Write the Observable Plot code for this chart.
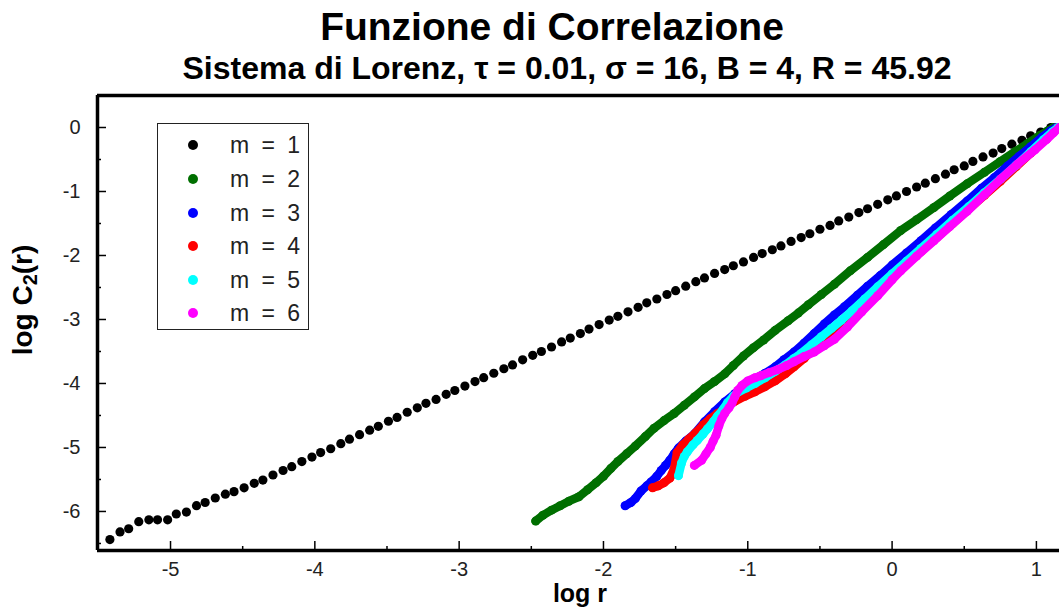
<!DOCTYPE html>
<html><head><meta charset="utf-8">
<script src="https://cdn.jsdelivr.net/npm/d3@7"></script>
<script src="https://cdn.jsdelivr.net/npm/@observablehq/plot@0.6"></script>
<style>
body{margin:0;background:#fff;font-family:"Liberation Sans",Arial,sans-serif;}
#wrap{position:relative;width:1059px;height:607px;overflow:hidden;background:#fff;}
#chart{position:absolute;left:0;top:0;}
.t{position:absolute;white-space:nowrap;color:#000;font-weight:bold;}
#title{left:0;width:1059px;text-align:center;top:7px;font-size:39px;line-height:39px;padding-left:45px;box-sizing:border-box;}
#subtitle{left:0;width:1059px;text-align:center;top:52px;font-size:32px;line-height:32px;padding-left:75px;box-sizing:border-box;}
#xlabel{left:0;width:1059px;text-align:center;top:582px;font-size:25px;line-height:22px;padding-left:101px;box-sizing:border-box;}
#ylabel{left:26px;top:300px;font-size:28px;line-height:28px;transform:translate(-50%,-50%) rotate(-90deg);}
#ylabel sub{font-size:20px;vertical-align:-5px;}
#legend{position:absolute;left:157px;top:123px;width:152px;height:207px;border:1.5px solid #222;box-sizing:border-box;background:#fff;}
.row{position:absolute;left:0;height:30px;width:150px;}
.sw{position:absolute;left:30px;top:10px;width:10px;height:10px;border-radius:50%;}
.lab{position:absolute;left:72px;top:2px;font-size:23px;line-height:26px;color:#222;word-spacing:6px;}
</style>
</head><body>
<div id="wrap">
  <div id="chart"></div>
  <div class="t" id="title">Funzione di Correlazione</div>
  <div class="t" id="subtitle">Sistema di Lorenz, τ = 0.01, σ = 16, B = 4, R = 45.92</div>
  <div class="t" id="xlabel">log r</div>
  <div class="t" id="ylabel">log C<sub>2</sub>(r)</div>
  <div id="legend"></div>
</div>
<script>
// ---- data (log r, log C2(r)) ----
const seriesNames = ["m = 1", "m = 2", "m = 3", "m = 4", "m = 5", "m = 6"];
const seriesColors = ["#000000", "#006f00", "#0000ff", "#ff0000", "#00ffff", "#ff00ff"];

const m1 = [[-5.42,-6.44],[-5.35,-6.32],[-5.29,-6.27],[-5.22,-6.16],[-5.15,-6.13],[-5.09,-6.13],[-5.02,-6.13],[-4.96,-6.04],[-4.89,-6.01],[-4.82,-5.91],[-4.76,-5.86],[-4.69,-5.79],[-4.62,-5.73],[-4.56,-5.69],[-4.49,-5.63],[-4.42,-5.56],[-4.36,-5.51],[-4.29,-5.43],[-4.22,-5.36],[-4.16,-5.30],[-4.09,-5.22],[-4.02,-5.15],[-3.96,-5.08],[-3.89,-5.02],[-3.82,-4.94],[-3.76,-4.87],[-3.69,-4.80],[-3.62,-4.73],[-3.56,-4.67],[-3.49,-4.59],[-3.43,-4.53],[-3.36,-4.45],[-3.29,-4.38],[-3.23,-4.31],[-3.16,-4.25],[-3.09,-4.17],[-3.03,-4.11],[-2.96,-4.04],[-2.89,-3.97],[-2.83,-3.91],[-2.76,-3.84],[-2.69,-3.77],[-2.63,-3.71],[-2.56,-3.63],[-2.49,-3.56],[-2.43,-3.50],[-2.36,-3.43],[-2.29,-3.35],[-2.23,-3.29],[-2.16,-3.22],[-2.10,-3.15],[-2.03,-3.08],[-1.96,-3.01],[-1.90,-2.95],[-1.83,-2.88],[-1.76,-2.81],[-1.70,-2.74],[-1.63,-2.68],[-1.56,-2.61],[-1.50,-2.55],[-1.43,-2.48],[-1.36,-2.41],[-1.30,-2.35],[-1.23,-2.28],[-1.16,-2.22],[-1.10,-2.16],[-1.03,-2.10],[-0.96,-2.03],[-0.90,-1.97],[-0.83,-1.91],[-0.77,-1.85],[-0.70,-1.78],[-0.63,-1.72],[-0.57,-1.66],[-0.50,-1.59],[-0.43,-1.53],[-0.37,-1.46],[-0.30,-1.40],[-0.23,-1.33],[-0.17,-1.27],[-0.10,-1.20],[-0.03,-1.13],[0.03,-1.07],[0.10,-1.00],[0.17,-0.93],[0.23,-0.87],[0.30,-0.80],[0.37,-0.73],[0.43,-0.66],[0.50,-0.60],[0.56,-0.53],[0.63,-0.46],[0.70,-0.40],[0.76,-0.33],[0.83,-0.26],[0.90,-0.20],[0.96,-0.13],[1.03,-0.07],[1.10,0.00]];

const m2 = [[-2.47,-6.15],[-2.42,-6.06],[-2.36,-5.98],[-2.30,-5.91],[-2.24,-5.84],[-2.17,-5.77],[-2.11,-5.66],[-2.05,-5.55],[-2.00,-5.45],[-1.95,-5.33],[-1.90,-5.22],[-1.84,-5.10],[-1.78,-4.98],[-1.71,-4.83],[-1.65,-4.70],[-1.58,-4.58],[-1.51,-4.47],[-1.44,-4.34],[-1.37,-4.21],[-1.30,-4.08],[-1.23,-3.97],[-1.16,-3.85],[-1.10,-3.72],[-1.03,-3.57],[-0.96,-3.44],[-0.89,-3.32],[-0.81,-3.17],[-0.72,-3.02],[-0.65,-2.90],[-0.58,-2.77],[-0.49,-2.61],[-0.40,-2.45],[-0.29,-2.24],[-0.17,-2.03],[-0.06,-1.83],[0.06,-1.61],[0.17,-1.44],[0.29,-1.25],[0.40,-1.07],[0.52,-0.88],[0.64,-0.70],[0.75,-0.53],[0.85,-0.38],[0.94,-0.25],[1.02,-0.13],[1.08,-0.05],[1.12,0.00]];

const m3 = [[-1.85,-5.91],[-1.81,-5.86],[-1.78,-5.80],[-1.74,-5.68],[-1.70,-5.60],[-1.67,-5.54],[-1.63,-5.45],[-1.60,-5.36],[-1.57,-5.28],[-1.54,-5.20],[-1.51,-5.10],[-1.48,-5.01],[-1.43,-4.90],[-1.37,-4.79],[-1.30,-4.60],[-1.23,-4.44],[-1.16,-4.29],[-1.09,-4.16],[-1.02,-4.04],[-0.95,-3.93],[-0.88,-3.84],[-0.81,-3.74],[-0.75,-3.63],[-0.68,-3.51],[-0.61,-3.37],[-0.54,-3.22],[-0.47,-3.07],[-0.40,-2.93],[-0.33,-2.80],[-0.24,-2.62],[-0.17,-2.48],[-0.08,-2.31],[0.00,-2.15],[0.10,-1.96],[0.20,-1.77],[0.30,-1.57],[0.41,-1.36],[0.52,-1.15],[0.62,-0.95],[0.71,-0.78],[0.80,-0.60],[0.88,-0.45],[0.96,-0.30],[1.04,-0.15],[1.10,-0.05],[1.14,0.00]];

const m4 = [[-1.66,-5.63],[-1.62,-5.60],[-1.58,-5.55],[-1.54,-5.48],[-1.51,-5.33],[-1.49,-5.08],[-1.45,-4.96],[-1.41,-4.87],[-1.36,-4.77],[-1.31,-4.65],[-1.26,-4.55],[-1.21,-4.47],[-1.15,-4.38],[-1.09,-4.28],[-1.02,-4.20],[-0.95,-4.13],[-0.88,-4.05],[-0.81,-3.96],[-0.74,-3.85],[-0.68,-3.74],[-0.61,-3.61],[-0.54,-3.45],[-0.47,-3.31],[-0.40,-3.17],[-0.31,-2.99],[-0.21,-2.78],[-0.10,-2.55],[0.00,-2.34],[0.10,-2.14],[0.20,-1.94],[0.31,-1.72],[0.42,-1.50],[0.53,-1.28],[0.64,-1.06],[0.75,-0.84],[0.86,-0.61],[0.96,-0.40],[1.05,-0.21],[1.11,-0.08],[1.15,0.00]];

const m5 = [[-1.48,-5.44],[-1.46,-5.25],[-1.44,-5.14],[-1.42,-5.07],[-1.38,-4.96],[-1.35,-4.89],[-1.31,-4.79],[-1.28,-4.71],[-1.24,-4.60],[-1.21,-4.51],[-1.17,-4.40],[-1.14,-4.30],[-1.10,-4.20],[-1.07,-4.14],[-1.01,-4.07],[-0.95,-4.00],[-0.88,-3.91],[-0.81,-3.81],[-0.74,-3.71],[-0.68,-3.61],[-0.63,-3.53],[-0.56,-3.40],[-0.49,-3.27],[-0.42,-3.14],[-0.35,-3.01],[-0.28,-2.87],[-0.19,-2.68],[-0.10,-2.49],[0.00,-2.29],[0.10,-2.09],[0.20,-1.89],[0.31,-1.67],[0.42,-1.45],[0.53,-1.24],[0.64,-1.02],[0.75,-0.81],[0.86,-0.59],[0.96,-0.38],[1.05,-0.19],[1.11,-0.07],[1.15,0.00]];

const m6 = [[-1.37,-5.28],[-1.32,-5.20],[-1.29,-5.10],[-1.26,-5.00],[-1.24,-4.90],[-1.22,-4.81],[-1.20,-4.66],[-1.18,-4.55],[-1.16,-4.47],[-1.13,-4.38],[-1.11,-4.31],[-1.09,-4.21],[-1.07,-4.11],[-1.04,-4.03],[-1.00,-3.96],[-0.95,-3.91],[-0.91,-3.88],[-0.85,-3.83],[-0.79,-3.78],[-0.73,-3.72],[-0.68,-3.66],[-0.61,-3.58],[-0.54,-3.51],[-0.47,-3.41],[-0.40,-3.31],[-0.31,-3.12],[-0.21,-2.88],[-0.10,-2.63],[0.00,-2.38],[0.06,-2.24],[0.17,-2.01],[0.29,-1.77],[0.40,-1.55],[0.52,-1.31],[0.64,-1.05],[0.755,-0.80],[0.87,-0.57],[0.99,-0.35],[1.07,-0.19],[1.12,-0.08],[1.16,0.00]];

const xMajor = [-5, -4, -3, -2, -1, 0, 1];
const xMinor = [-4.5, -3.5, -2.5, -1.5, -0.5, 0.5];
const yMajor = [0, -1, -2, -3, -4, -5, -6];
const yMinor = [-0.5, -1.5, -2.5, -3.5, -4.5, -5.5, -6.5];
const xDomain = [-5.506, 1.16];
const yDomain = [-6.61, 0.5];

// ---- build table ----
const allSeries = [m1, m2, m3, m4, m5, m6];
const rows = allSeries.flatMap((s, i) => s.map(([x, y]) => ({x, y, m: seriesNames[i]})));
const byName = name => rows.filter(d => d.m === name);

const fmt = d => String(d);
const marks = [];
// dense series: connected band + dots (m = 2 … 6); sparse m = 1: dots only
seriesNames.forEach((name, i) => {
  const data = byName(name);
  if (i > 0) {
    marks.push(Plot.line(data, {x: "x", y: "y", stroke: seriesColors[i], strokeWidth: 8.5, strokeLinecap: "round", strokeLinejoin: "round", clip: true}));
  }
  marks.push(Plot.dot(data, {x: "x", y: "y", r: i === 0 ? 4.6 : 4.5, fill: seriesColors[i], stroke: "none", clip: true}));
});

const plot = Plot.plot({
  width: 1059,
  height: 607,
  marginLeft: 97,
  marginRight: 0,
  marginTop: 95,
  marginBottom: 57,
  x: {domain: xDomain, label: null},
  y: {domain: yDomain, label: null},
  style: {fontFamily: '"Liberation Sans", Arial, sans-serif', background: "transparent", color: "#000"},
  marks: [
    ...marks,
    Plot.axisX(xMajor, {tickSize: 0, tickPadding: 11, tickFormat: fmt, fontSize: 20, fill: "#222"}),
    Plot.axisX(xMajor, {tickSize: -9, tickFormat: () => "", strokeWidth: 1.5}),
    Plot.axisX(xMinor, {tickSize: -4, tickFormat: () => "", strokeWidth: 1.5}),
    Plot.axisY(yMajor, {tickSize: 0, tickPadding: 17, tickFormat: fmt, fontSize: 20, fill: "#222"}),
    Plot.axisY(yMajor, {tickSize: -9, tickFormat: () => "", strokeWidth: 1.5}),
    Plot.axisY(yMinor, {tickSize: -4, tickFormat: () => "", strokeWidth: 1.5}),
    Plot.ruleX([xDomain[0]], {stroke: "#000", strokeWidth: 3.5}),
    Plot.ruleY([yDomain[0]], {stroke: "#000", strokeWidth: 3.5}),
    Plot.ruleY([yDomain[1]], {stroke: "#000", strokeWidth: 3.5})
  ]
});
document.getElementById("chart").appendChild(plot);

// ---- legend ----
const legend = document.getElementById("legend");
const rowTops = [6, 40, 74, 107, 141, 174];
seriesNames.forEach((name, i) => {
  const r = document.createElement("div");
  r.className = "row";
  r.style.top = rowTops[i] + "px";
  const sw = document.createElement("div");
  sw.className = "sw";
  sw.style.background = seriesColors[i];
  const lab = document.createElement("div");
  lab.className = "lab";
  lab.textContent = name;
  r.appendChild(sw); r.appendChild(lab);
  legend.appendChild(r);
});
</script>
</body></html>
